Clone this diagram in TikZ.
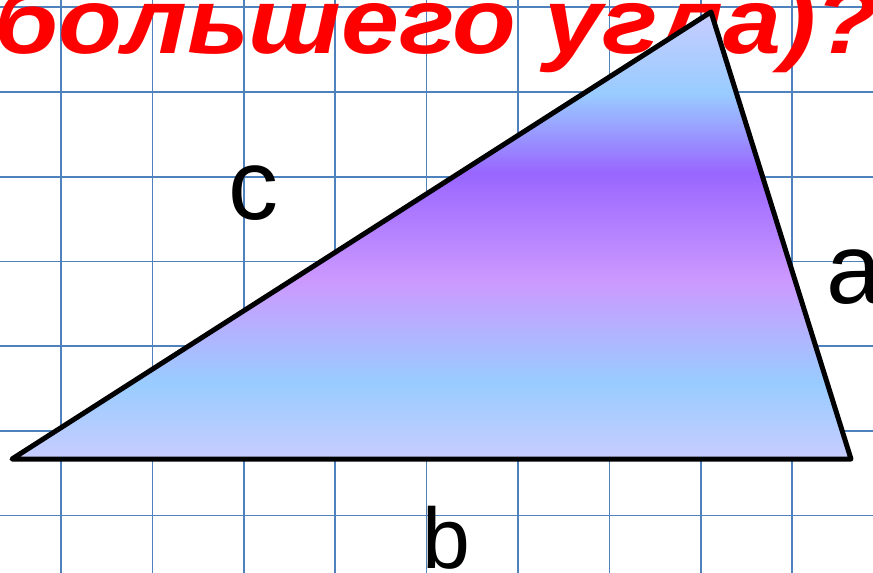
\documentclass[tikz,border=0pt]{standalone}
\usepackage{fontspec}
\usepackage{graphicx}
\setmainfont{Liberation Sans}
\definecolor{gridblue}{HTML}{4F81BD}
\definecolor{titlered}{HTML}{FF0000}
\definecolor{lav}{HTML}{C8CCFF}
\definecolor{skyb}{HTML}{99CCFF}
\definecolor{violet1}{HTML}{9966FF}
\definecolor{lilac}{HTML}{CC99FF}
\pgfdeclareverticalshading{trishade}{100bp}{%
  color(0bp)=(lav); color(25bp)=(lav); color(33.5bp)=(skyb); color(45bp)=(lilac);
  color(57bp)=(violet1); color(65.9bp)=(skyb); color(75bp)=(lav); color(100bp)=(lav)}
\tikzset{
  gridline/.style={draw=gridblue, line width=1.7pt},
  tri/.style={draw=black, line width=5pt, line join=round, shading=trishade},
  sidelabel/.style={inner sep=0pt, anchor=base west, text=black},
  title/.style={inner sep=0pt, anchor=base west, text=titlered, font=\fontsize{93}{93}\selectfont\bfseries\itshape}
}
\begin{document}
\begin{tikzpicture}[x=1pt,y=-1pt]
\useasboundingbox (0,0) rectangle (873,573);
\fill[white] (0,0) rectangle (873,573);
% grid
\foreach \i in {0,...,8} {
  \draw[gridline] ({61+91.4*\i},0) -- ({61+91.4*\i},573);
}
\foreach \j in {0,...,6} {
  \draw[gridline] (0,{7.3+84.7*\j}) -- (873,{7.3+84.7*\j});
}
% title
\node[title] (t) at (-6,53) {\scalebox{1.12}[1]{большего угла)?}};
% triangle
\coordinate (A) at (12,459);
\coordinate (B) at (851,459);
\coordinate (C) at (711,12);
\path[tri] (A) -- (B) -- (C) -- cycle;
% labels
\node[sidelabel, font=\fontsize{100}{100}\selectfont] (lc) at (228,219) {c};
\node[sidelabel, font=\fontsize{100}{100}\selectfont] (la) at (826,303) {a};
\node[sidelabel, font=\fontsize{86}{86}\selectfont] (lb) at (422,568) {b};
\end{tikzpicture}
\end{document}
